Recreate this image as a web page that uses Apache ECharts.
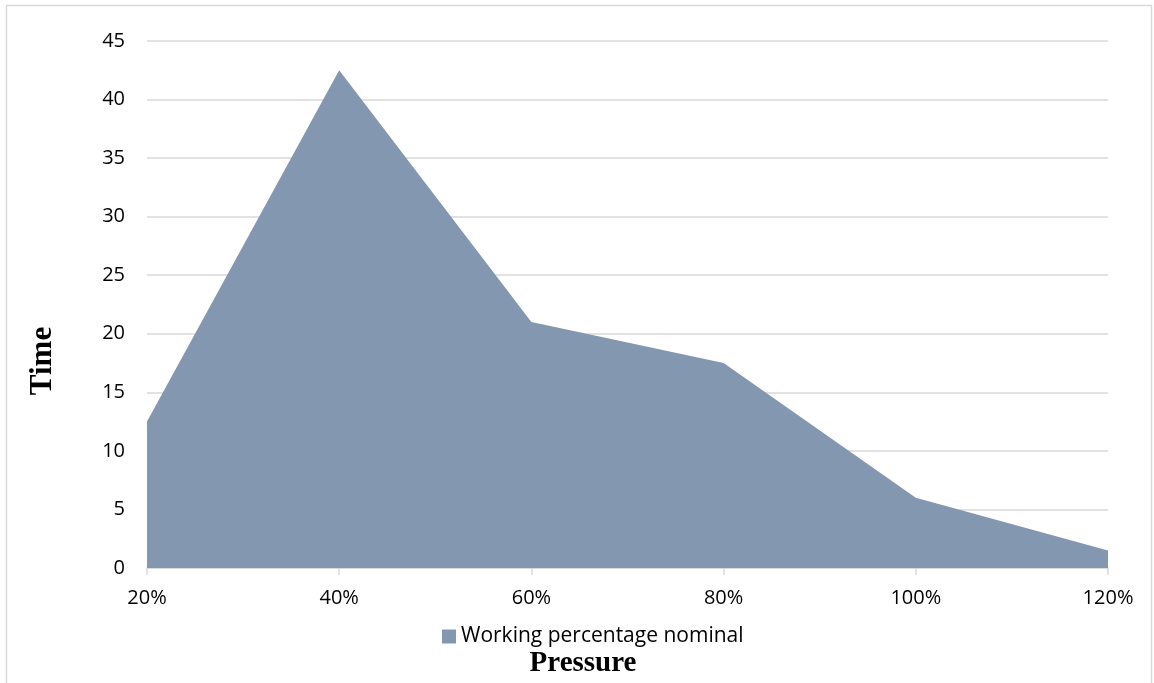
<!DOCTYPE html>
<html><head><meta charset="utf-8">
<script src="https://cdn.jsdelivr.net/npm/echarts@6/dist/echarts.min.js"></script>
<style>html,body{margin:0;padding:0;background:#fff}#c{width:1154px;height:683px}</style>
</head><body><div id="c"></div>
<script>
const categories = ['20%','40%','60%','80%','100%','120%'];
const workingValues = [12.5, 42.5, 21, 17.5, 6, 1.5];
const seriesName = 'Working percentage nominal';
const xTitle = 'Pressure';
const yTitle = 'Time';

const chart = echarts.init(document.getElementById('c'), null, {renderer:'canvas'});
chart.setOption({
  animation:false,
  backgroundColor:'#fff',
  graphic:[
    {type:'rect',shape:{x:6.5,y:5.5,width:1145,height:700},style:{fill:'none',stroke:'#d9d9d9',lineWidth:1.5},silent:true},
    {type:'text',x:583,y:664,style:{text:xTitle,textAlign:'center',textVerticalAlign:'middle',fontFamily:'Liberation Serif',fontWeight:'bold',fontSize:29,fill:'#000'}},
    {type:'text',x:43,y:361,rotation:Math.PI/2,style:{text:yTitle,textAlign:'center',textVerticalAlign:'middle',fontFamily:'Liberation Serif',fontWeight:'bold',fontSize:31,fill:'#000'}}
  ],
  grid:{left:147,right:46,top:41,bottom:115},
  legend:{data:[{name:seriesName,icon:'rect'}],left:437,top:621,itemWidth:14,itemHeight:14,itemGap:6,
    textStyle:{fontFamily:'Open Sans',fontSize:21,color:'#000'}},
  xAxis:{type:'category',data:categories,boundaryGap:false,
    axisLine:{lineStyle:{color:'#d9d9d9',width:1.5}},
    axisTick:{show:true,alignWithLabel:true,length:7,lineStyle:{color:'#d9d9d9',width:1.5}},
    axisLabel:{fontFamily:'Open Sans',fontSize:20,color:'#000',margin:20},
    splitLine:{show:false}},
  yAxis:{type:'value',min:0,max:45,interval:5,
    axisLine:{show:false},axisTick:{show:false},
    axisLabel:{fontFamily:'Open Sans',fontSize:20,color:'#000',margin:22},
    splitLine:{lineStyle:{color:'#d9d9d9',width:1.5}}},
  series:[{name:seriesName,type:'line',data:workingValues,symbol:'none',
    lineStyle:{width:0,color:'#8497B0'},itemStyle:{color:'#8497B0'},
    areaStyle:{color:'#8497B0',opacity:1}}]
});
</script></body></html>
